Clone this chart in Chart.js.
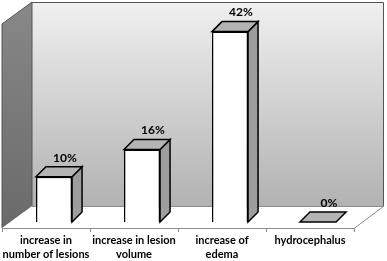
<!DOCTYPE html>
<html>
<head>
<meta charset="utf-8">
<script src="https://cdn.jsdelivr.net/npm/chart.js@4"></script>
<style>
body{margin:0;background:#fff}
</style>
</head>
<body>
<canvas id="grafica" width="387" height="261"></canvas>
<script>
// datos de la grafica
const categorias = [['increase in', 'number of lesions'], ['increase in lesion', 'volume'], ['increase of', 'edema'], 'hydrocephalus']
const porcentajes = [10, 16, 42, 0]
const eje_max = 45

// profundidad de las barras y de las paredes (efecto 3D)
const DX = 10, DY = 10
const frente = {x: -8, y: 6}
const fondo = {x: 22, y: -16}

function poligono(ctx, pts, relleno, borde, ancho) {
    ctx.beginPath()
    ctx.moveTo(pts[0][0], pts[0][1])
    for (let i = 1; i < pts.length; i++) ctx.lineTo(pts[i][0], pts[i][1])
    ctx.closePath()
    if (relleno) { ctx.fillStyle = relleno; ctx.fill() }
    if (borde) { ctx.strokeStyle = borde; ctx.lineWidth = ancho || 1; ctx.stroke() }
}

const cubos = {
    id: 'cubos',
    beforeDatasetsDraw(chart) {
        const ctx = chart.ctx
        const a = chart.chartArea
        const base = chart.scales.y.getPixelForValue(0)
        const L = a.left + fondo.x, R = a.right + fondo.x, T = a.top + fondo.y, B = base + fondo.y
        const fL = a.left + frente.x, fR = a.right + frente.x, fT = a.top + frente.y, fB = base + frente.y
        ctx.save()
        // pared del fondo
        const g = ctx.createLinearGradient(0, T, 0, B)
        g.addColorStop(0, '#f0f0f0')
        g.addColorStop(1, '#b2b2b2')
        poligono(ctx, [[L, T], [R, T], [R, B], [L, B]], g, null)
        ctx.strokeStyle = '#555'
        ctx.lineWidth = 1
        ctx.beginPath()
        ctx.moveTo(L, T + 0.5); ctx.lineTo(R - 0.5, T + 0.5); ctx.lineTo(R - 0.5, B)
        ctx.stroke()
        // pared izquierda
        const g2 = ctx.createLinearGradient(0, T, 0, fB)
        g2.addColorStop(0, '#888888')
        g2.addColorStop(1, '#6a6a6a')
        poligono(ctx, [[L, T], [L, B], [fL, fB], [fL, fT]], g2, '#555', 1)
        // piso
        poligono(ctx, [[fL, fB], [fR, fB], [R, B], [L, B]], '#ffffff', null)
        ctx.strokeStyle = '#8c8c8c'
        ctx.beginPath()
        ctx.moveTo(fL, fB + 0.5); ctx.lineTo(fR, fB + 0.5); ctx.lineTo(R, B)
        ctx.moveTo(L, B + 0.5); ctx.lineTo(R, B + 0.5)
        const n = categorias.length
        for (let i = 0; i <= n; i++) {
            const x = Math.round(fL + i * (fR - fL) / n) + 0.5
            ctx.moveTo(x, fB); ctx.lineTo(x, fB + 4)
        }
        ctx.stroke()
        ctx.restore()
    },
    afterDatasetsDraw(chart) {
        const ctx = chart.ctx
        const meta = chart.getDatasetMeta(0)
        ctx.save()
        ctx.lineJoin = 'miter'
        meta.data.forEach((el, i) => {
            const p = el.getProps(['x', 'y', 'base', 'width'], true)
            const l = p.x - p.width / 2, r = p.x + p.width / 2
            if (p.base - p.y > 0.5) {
                poligono(ctx, [[r, p.y], [r + DX, p.y - DY], [r + DX, p.base - DY], [r, p.base]], '#9d9d9d', '#000', 1.5)
            }
            poligono(ctx, [[l, p.y], [l + DX, p.y - DY], [r + DX, p.y - DY], [r, p.y]], '#b4b4b4', '#000', 1.5)
            ctx.fillStyle = '#000'
            ctx.font = 'bold 12px Lato'
            ctx.textAlign = 'center'
            ctx.textBaseline = 'middle'
            ctx.fillText(porcentajes[i] + '%', p.x + 11, p.y - DY - 9)
        })
        ctx.restore()
    }
}

const ctx_grafica = document.getElementById('grafica').getContext('2d')

new Chart(ctx_grafica, {
    type: 'bar',
    data: {
        labels: categorias,
        datasets: [{
            data: porcentajes,
            backgroundColor: '#ffffff',
            borderColor: '#000000',
            borderWidth: 1.5,
            barPercentage: 0.41,
            categoryPercentage: 1
        }]
    },
    options: {
        responsive: false,
        animation: false,
        layout: {
            padding: {left: 10, right: 25, top: 18, bottom: 0}
        },
        scales: {
            x: {
                grid: {display: false, drawTicks: false},
                border: {display: false},
                afterFit: function(scale) {
                    // alto fijo del eje y sin relleno lateral
                    scale.height = 39
                    scale.paddingLeft = 0
                    scale.paddingRight = 0
                },
                ticks: {
                    color: '#000',
                    padding: 11,
                    labelOffset: -8,
                    maxRotation: 0,
                    autoSkip: false,
                    font: {family: 'Lato', weight: 'bold', size: 11, lineHeight: 1.27}
                }
            },
            y: {
                display: false,
                min: 0,
                max: eje_max
            }
        },
        plugins: {
            legend: {display: false},
            tooltip: {enabled: false}
        }
    },
    plugins: [cubos]
})
</script>
</body>
</html>
